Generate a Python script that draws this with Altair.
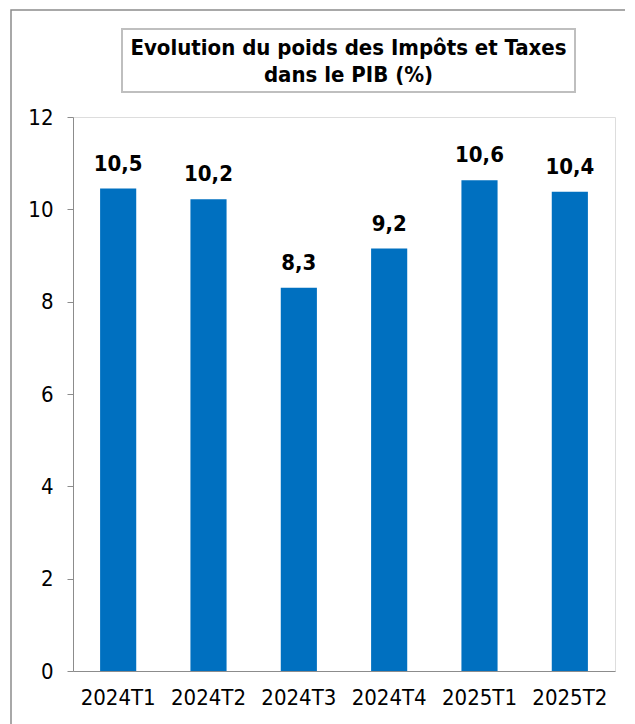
import altair as alt
import pandas as pd

periods = ["2024T1", "2024T2", "2024T3", "2024T4", "2025T1", "2025T2"]
values = [10.45, 10.22, 8.3, 9.15, 10.63, 10.38]
labels = ["10,5", "10,2", "8,3", "9,2", "10,6", "10,4"]
title_lines = ["Evolution du poids des Impôts et Taxes", "dans le PIB (%)"]
y_ticks = [0, 2, 4, 6, 8, 10, 12]

df = pd.DataFrame({"periode": periods, "valeur": values, "label": labels})

FONT = "DejaVu Sans Condensed"
W, H = 542, 554

x_enc = alt.X("periode:N", sort=periods, title=None,
              scale=alt.Scale(paddingInner=0.6, paddingOuter=0.3),
              axis=alt.Axis(labelAngle=0, labelFontSize=22, labelFont=FONT,
                            labelColor="#000000", labelPadding=16,
                            domainColor="#8c8c8c", ticks=False))
y_enc = alt.Y("valeur:Q", title=None,
              scale=alt.Scale(domain=[0, 12], nice=False),
              axis=alt.Axis(values=y_ticks, grid=False, labelFontSize=22,
                            labelFont=FONT, labelColor="#000000",
                            labelPadding=14, domainColor="#8c8c8c",
                            tickColor="#8c8c8c", tickSize=6))

bars = alt.Chart(df).mark_bar(color="#0070C0").encode(x=x_enc, y=y_enc)

text = alt.Chart(df).mark_text(dy=-18, fontSize=22, fontWeight="bold",
                               font=FONT, color="#000000",
                               baseline="alphabetic").encode(
    x=alt.X("periode:N", sort=periods),
    y="valeur:Q",
    text="label:N")

# outer frame and title box (decorations)
frame_df = pd.DataFrame({"k": [0]})
outer = alt.Chart(frame_df).mark_rect(fill=None, stroke="#8c8c8c",
                                      strokeWidth=1.5, clip=False).encode(
    x=alt.value(-62), x2=alt.value(600), y=alt.value(-107), y2=alt.value(640))
tbox = alt.Chart(frame_df).mark_rect(fill="#ffffff", stroke="#bfbfbf",
                                     strokeWidth=2, clip=False).encode(
    x=alt.value(49), x2=alt.value(502), y=alt.value(-88), y2=alt.value(-25))

t1 = alt.Chart(pd.DataFrame({"t": [title_lines[0]]})).mark_text(
    fontSize=22, fontWeight="bold", font=FONT, color="#000000",
    baseline="alphabetic").encode(x=alt.value(275.5), y=alt.value(-62), text="t:N")
t2 = alt.Chart(pd.DataFrame({"t": [title_lines[1]]})).mark_text(
    fontSize=22, fontWeight="bold", font=FONT, color="#000000",
    baseline="alphabetic").encode(x=alt.value(275.5), y=alt.value(-35), text="t:N")

chart = alt.layer(outer, tbox, t1, t2, bars, text).properties(
    width=W, height=H,
    autosize=alt.AutoSizeParams(type="none"),
    padding={"left": 65, "top": 109, "right": 10, "bottom": 60},
).configure_view(stroke="#bfbfbf", strokeWidth=1.5).configure(background="#ffffff")

chart.save("out.html", embed_options={"renderer": "svg", "actions": False})
